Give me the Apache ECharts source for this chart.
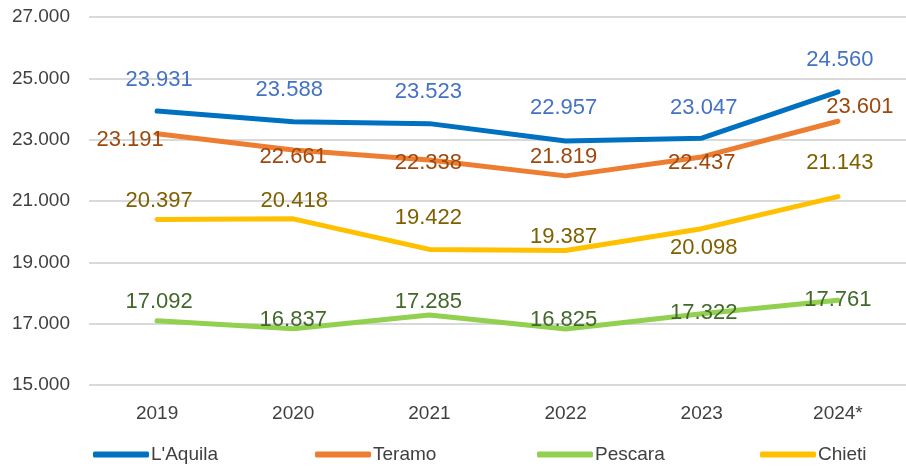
<!DOCTYPE html>
<html>
<head>
<meta charset="utf-8">
<script src="https://cdn.jsdelivr.net/npm/echarts@6/dist/echarts.min.js"></script>
<style>
	html, body { margin: 0; padding: 0; background: #fff; }
	#chart { width: 906px; height: 466px; }
</style>
</head>
<body>
<div id="chart"></div>
<script>
	var years = ['2019', '2020', '2021', '2022', '2023', '2024*'];
	var cities = ["L'Aquila", 'Teramo', 'Pescara', 'Chieti'];
	var laquila = [23931, 23588, 23523, 22957, 23047, 24560];
	var teramo = [23191, 22661, 22338, 21819, 22437, 23601];
	var pescara = [17092, 16837, 17285, 16825, 17322, 17761];
	var chieti = [20397, 20418, 19422, 19387, 20098, 21143];

	// label placement as in the original (moved by hand in Excel), [dx, dy] from the point
	var shiftLaquila = [[2, -31], [-4, -32], [-1, -32], [-2, -33], [2, -30], [2, -32]];
	var shiftTeramo = [[-27, 6], [0, 7], [-1, 3], [-2, -19], [0, 6], [22, -14]];
	var shiftPescara = [[2, -19], [0, -9], [-1, -13], [-2, -9], [2, -1], [0, 0]];
	var shiftChieti = [[2, -19], [1, -18], [-1, -31], [-2, -14], [2, 19], [2, -34]];

	var fmt = function (v) {
		return (v / 1000).toFixed(3);
	};

	function makeSeries(name, values, shift, lineColor, labelColor) {
		var data = [];
		for (var i = 0; i < values.length; i++) {
			data.push({
				value: values[i],
				label: { offset: shift[i] }
			});
		}
		return {
			name: name,
			type: 'line',
			data: data,
			showSymbol: true,
			symbol: 'circle',
			symbolSize: 0,
			lineStyle: { color: lineColor, width: 5, cap: 'round', join: 'round' },
			itemStyle: { color: lineColor },
			label: {
				show: true,
				position: 'inside',
				color: labelColor,
				fontFamily: 'Liberation Sans',
				fontSize: 22,
				formatter: function (p) { return fmt(p.value); }
			},
			emphasis: { disabled: true },
			animation: false
		};
	}

	// one legend per city so the items sit at the same spacing as the original
	var legendLeft = [88, 310, 532, 755];
	var legends = [];
	for (var k = 0; k < cities.length; k++) {
		legends.push({
			left: legendLeft[k],
			top: 440,
			itemWidth: 56,
			itemHeight: 6,
			itemGap: 0,
			icon: 'roundRect',
			textStyle: {
				color: '#404040',
				fontFamily: 'Liberation Sans',
				fontSize: 19,
				padding: [0, 0, 0, -3]
			},
			data: [cities[k]]
		});
	}

	var chart = echarts.init(document.getElementById('chart'));
	chart.setOption({
		animation: false,
		grid: { left: 89, right: -11, top: 17, bottom: 81 },
		legend: legends,
		xAxis: {
			type: 'category',
			data: years,
			boundaryGap: true,
			axisLine: { show: false },
			axisTick: { show: false },
			axisLabel: {
				color: '#404040',
				fontFamily: 'Liberation Sans',
				fontSize: 19,
				margin: 19
			}
		},
		yAxis: {
			type: 'value',
			min: 15000,
			max: 27000,
			interval: 2000,
			axisLine: { show: false },
			axisTick: { show: false },
			splitLine: { lineStyle: { color: '#d9d9d9', width: 2 } },
			axisLabel: {
				color: '#404040',
				fontFamily: 'Liberation Sans',
				fontSize: 19,
				margin: 19,
				formatter: fmt
			}
		},
		series: [
			makeSeries(cities[0], laquila, shiftLaquila, '#0070c0', '#4472c4'),
			makeSeries(cities[1], teramo, shiftTeramo, '#ed7d31', '#9e480e'),
			makeSeries(cities[2], pescara, shiftPescara, '#92d050', '#43682b'),
			makeSeries(cities[3], chieti, shiftChieti, '#ffc000', '#7f6000')
		]
	});
</script>
</body>
</html>
